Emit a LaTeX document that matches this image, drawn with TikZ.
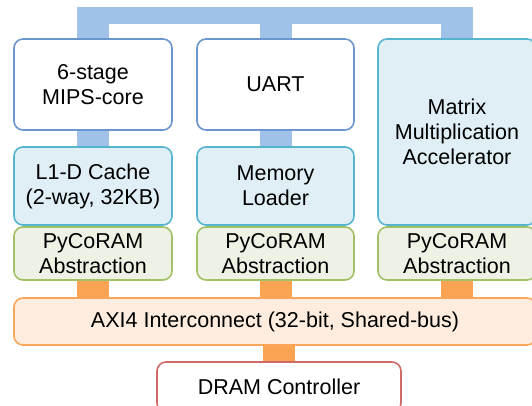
\documentclass[tikz,border=0pt]{standalone}
\usepackage{fontspec}
\setmainfont{Liberation Sans}
\usetikzlibrary{backgrounds}
\definecolor{busblue}{HTML}{A0C2E8}
\definecolor{busorange}{HTML}{FAA352}
\definecolor{coreline}{HTML}{6A95CD}
\definecolor{tealline}{HTML}{55B5CE}
\definecolor{tealfill}{HTML}{E0EFF5}
\definecolor{greenline}{HTML}{A2C065}
\definecolor{greenfill}{HTML}{EEF2E4}
\definecolor{axiline}{HTML}{F9A55A}
\definecolor{axifill}{HTML}{FEECDF}
\definecolor{dramline}{HTML}{D06A66}
\tikzset{
  every picture/.style={line join=round, line cap=butt},
  block/.style={draw, rounded corners=9pt, line width=1.6pt, align=center,
    inner sep=0pt, font=\fontsize{21.5}{25}\selectfont},
  cpu/.style={block, draw=coreline, fill=white, minimum width=158pt, minimum height=91pt},
  memside/.style={block, draw=tealline, fill=tealfill, minimum width=158pt},
  pycoram/.style={block, draw=greenline, fill=greenfill, minimum width=158pt, minimum height=53pt},
  bluelink/.style={draw=busblue, line width=32pt},
  orangelink/.style={draw=busorange, line width=32pt},
}

\begin{document}
\begin{tikzpicture}[x=1pt,y=1pt]
\useasboundingbox (0,0) rectangle (532,405);
% top row
\node[cpu] (core) at (93,320.5) {6-stage\\MIPS-core};
\node[cpu, minimum width=157pt] (uart) at (275.5,320.5) {UART};
\node[memside, minimum height=186pt] (mma) at (457,273) {Matrix\\Multiplication\\Accelerator};
% caches
\node[memside, minimum height=78pt] (cache) at (93,219) {L1-D Cache\\(2-way, 32KB)};
\node[memside, minimum width=157pt, minimum height=78pt] (loader) at (275.5,219) {Memory\\Loader};
% PyCoRAM layer
\node[pycoram] (pyc1) at (93,151.5) {PyCoRAM\\Abstraction};
\node[pycoram, minimum width=157pt] (pyc2) at (275.5,151.5) {PyCoRAM\\Abstraction};
\node[pycoram] (pyc3) at (457,151.5) {PyCoRAM\\Abstraction};
% interconnect and DRAM
\node[block, draw=axiline, fill=axifill, minimum width=522pt, minimum height=47pt] (axi) at (275,83.5) {AXI4 Interconnect (32-bit, Shared-bus)};
\node[block, draw=dramline, fill=white, minimum width=244pt, minimum height=50pt] (dram) at (279,18) {DRAM Controller};
\node[fill=busblue, minimum width=396pt, minimum height=17pt, inner sep=0pt] (bus) at (275,389.5) {};
\begin{scope}[on background layer]
\draw[bluelink] (core.north) -- (core.north |- bus.south);
\draw[bluelink] (uart.north) -- (uart.north |- bus.south);
\draw[bluelink] (mma.north) -- (mma.north |- bus.south);
\draw[bluelink] (core) -- (cache);
\draw[bluelink] (uart) -- (loader);
\draw[orangelink] (pyc1) -- (pyc1 |- axi.north);
\draw[orangelink] (pyc2) -- (pyc2 |- axi.north);
\draw[orangelink] (pyc3) -- (pyc3 |- axi.north);
\draw[orangelink] (axi.south -| dram.north) -- (dram.north);
\end{scope}
\end{tikzpicture}
\end{document}
